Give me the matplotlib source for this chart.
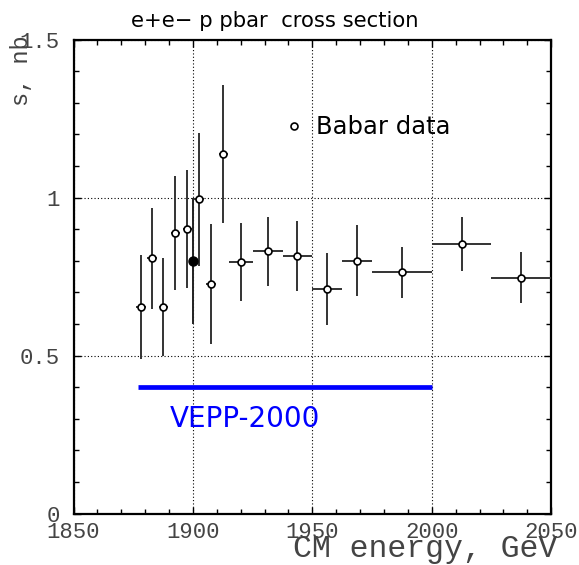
import matplotlib

matplotlib.use("Agg")
import matplotlib.pyplot as plt
from matplotlib.lines import Line2D
from matplotlib.ticker import MultipleLocator

# Babar points (energy in bin centre, cross section, errors)
babar_e = [1878.3, 1882.9, 1887.6, 1892.6, 1897.7, 1902.6, 1907.6, 1912.7,
           1920.0, 1931.25, 1943.75, 1956.25, 1968.75, 1987.5, 2012.5, 2037.5]
babar_s = [0.655, 0.808, 0.655, 0.888, 0.901, 0.995, 0.726, 1.137,
           0.797, 0.830, 0.815, 0.711, 0.801, 0.764, 0.853, 0.747]
babar_ds = [0.165, 0.160, 0.155, 0.180, 0.188, 0.210, 0.190, 0.218,
            0.123, 0.110, 0.110, 0.113, 0.113, 0.080, 0.085, 0.081]
babar_de = [2, 2, 2, 2, 2, 2, 2, 2,
            5, 6.25, 6.25, 6.25, 6.25, 12.5, 12.5, 12.5]

# single filled point
extra_e = [1900.2]
extra_s = [0.80]
extra_ds = [0.20]

# VEPP-2000 energy range and level
vepp_e = [1877, 2000]
vepp_s = [0.4, 0.4]

mono = "Liberation Mono"

fig = plt.figure(figsize=(5.79, 5.65), dpi=100)
ax = fig.add_axes([0.127, 0.0908, 0.825, 0.839])

ax.errorbar(babar_e, babar_s, yerr=babar_ds, xerr=babar_de, fmt="o", ms=5,
            mfc="white", mec="black", mew=1.2, ecolor="#333333", elinewidth=1.4,
            capsize=0, zorder=3)
ax.errorbar(extra_e, extra_s, yerr=extra_ds, fmt="o", ms=6.5, mfc="black",
            mec="black", ecolor="#222222", elinewidth=1.4, capsize=0, zorder=3)

ax.plot(vepp_e, vepp_s, color="#0000ff", lw=3.4, solid_capstyle="butt", zorder=2)
ax.text(1890.5, 0.274, "VEPP-2000", color="#0000ff", fontsize=20,
        family="DejaVu Sans", va="baseline", ha="left")

ax.set_xlim(1850, 2050)
ax.set_ylim(0, 1.5)
ax.xaxis.set_major_locator(MultipleLocator(50))
ax.xaxis.set_minor_locator(MultipleLocator(10))
ax.yaxis.set_minor_locator(MultipleLocator(0.1))
ax.set_yticks([0, 0.5, 1, 1.5])
ax.set_yticklabels(["0", "0.5", "1", "1.5"])

ax.tick_params(which="both", direction="in", top=True, right=True,
               labelsize=16, labelcolor="#444444", width=1)
ax.tick_params(which="major", length=5)
ax.tick_params(which="minor", length=3.5)
ax.tick_params(axis="x", pad=6)
ax.tick_params(axis="y", pad=10)
for lab in ax.get_xticklabels() + ax.get_yticklabels():
    lab.set_family(mono)

for sp in ax.spines.values():
    sp.set_linewidth(1.6)

ax.grid(True, which="major", color="black", linestyle=(0, (1, 2)), linewidth=0.8)

babar_handle = Line2D([], [], ls="none", marker="o", ms=5, mfc="white",
                      mec="black", mew=1.2)
ax.legend([babar_handle], ["Babar data"], loc="center left",
          bbox_to_anchor=(0.40, 0.815), frameon=False, handlelength=0.6,
          handletextpad=0.6, prop={"family": "DejaVu Sans", "size": 17.5})

fig.text(275 / 579, 1 - 27 / 565, "e+e\u2212 p pbar  cross section",
         fontsize=15.2, family="DejaVu Sans", ha="center", va="baseline")
fig.text(557 / 579, 8 / 565, "CM energy, GeV", fontsize=22.7, family=mono,
         ha="right", va="baseline", color="#444444")
fig.text(22 / 579, 1 - 35 / 565, "s, nb", fontsize=17, family=mono,
         rotation=90, ha="center", va="top", color="#444444")

fig.savefig("out.png", dpi=100)
plt.close(fig)
